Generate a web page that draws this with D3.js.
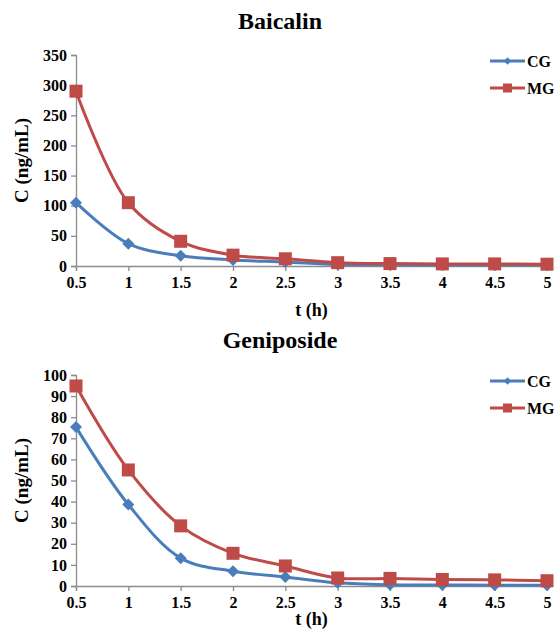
<!DOCTYPE html>
<html><head><meta charset="utf-8">
<script src="https://cdn.jsdelivr.net/npm/d3@7"></script>
<style>
html,body{margin:0;padding:0;background:#fff;}
</style></head>
<body>
<svg id="chart" width="555" height="638"></svg>
<script>
const times = [0.5, 1, 1.5, 2, 2.5, 3, 3.5, 4, 4.5, 5];
const timeLabels = ["0.5","1","1.5","2","2.5","3","3.5","4","4.5","5"];
const seriesNames = ["CG", "MG"];
const baicalinCG = [105, 37, 17, 10, 6.5, 2.5, 2, 1.5, 1.5, 1.5];
const baicalinMG = [290, 105, 41, 18, 12, 5.5, 4, 3.5, 3.5, 3];
const geniposideCG = [75.3, 38.6, 13.2, 7, 4.3, 1.5, 0.6, 0.5, 0.4, 0.3];
const geniposideMG = [94.8, 55, 28.5, 15.5, 9.5, 3.8, 3.6, 3.1, 2.9, 2.5];
const baicalinTicks = [0, 50, 100, 150, 200, 250, 300, 350];
const geniposideTicks = [0, 10, 20, 30, 40, 50, 60, 70, 80, 90, 100];
const colors = {CG: "#4A7EBB", MG: "#BE4B48"};

const svg = d3.select("#chart");
const FONT = "Liberation Serif";

function panel(cfg) {
  const g = svg.append("g");
  const x = d3.scaleLinear().domain([0.5, 5]).range([76, 547]);
  const y = d3.scaleLinear().domain([0, cfg.max]).range([cfg.bottom, cfg.top]);

  g.append("text").attr("x", 280).attr("y", cfg.titleY).attr("text-anchor", "middle")
    .style("font-family", FONT).style("font-weight", "bold")
    .style("font-size", "24px").text(cfg.title);

  const yAxis = g.append("g").attr("transform", "translate(76,0)")
    .call(d3.axisLeft(y).tickValues(cfg.ticks).tickSize(5).tickPadding(4).tickFormat(d3.format("d")));
  yAxis.select(".domain").attr("stroke", "#8c8c8c").attr("stroke-width", 1.3);
  yAxis.selectAll(".tick line").attr("stroke", "#8c8c8c").attr("stroke-width", 1.3);
  yAxis.selectAll(".tick text").style("font-family", FONT).style("font-weight", "bold")
    .style("font-size", "16px").attr("fill", "#000");

  const xAxis = g.append("g").attr("transform", `translate(0,${cfg.bottom})`)
    .call(d3.axisBottom(x).tickValues(times).tickSize(5).tickPadding(6)
      .tickFormat((d, i) => timeLabels[i]));
  xAxis.select(".domain").attr("stroke", "#8c8c8c").attr("stroke-width", 1.3);
  xAxis.selectAll(".tick line").attr("stroke", "#8c8c8c").attr("stroke-width", 1.3);
  xAxis.selectAll(".tick text").style("font-family", FONT).style("font-weight", "bold")
    .style("font-size", "16px").attr("fill", "#000");

  g.append("text").attr("transform", `translate(28,${(cfg.top + cfg.bottom) / 2}) rotate(-90)`)
    .attr("text-anchor", "middle").style("font-family", FONT).style("font-weight", "bold")
    .style("font-size", "19px").text("C (ng/mL)");
  g.append("text").attr("x", 311.5).attr("y", cfg.xLabelY).attr("text-anchor", "middle")
    .style("font-family", FONT).style("font-weight", "bold")
    .style("font-size", "18px").text("t (h)");

  const line = d3.line().x((d, i) => x(times[i])).y(d => y(d)).curve(d3.curveCatmullRom.alpha(0.5));
  const sets = [["CG", cfg.cg], ["MG", cfg.mg]];
  sets.forEach(([name, vals]) => {
    g.append("path").attr("d", line(vals)).attr("fill", "none")
      .attr("stroke", colors[name]).attr("stroke-width", 3);
  });
  sets.forEach(([name, vals]) => {
    const pts = g.append("g");
    vals.forEach((v, i) => {
      if (name === "CG") {
        pts.append("path").attr("d", d3.symbol(d3.symbolSquare, 72)())
          .attr("transform", `translate(${x(times[i])},${y(v)}) rotate(45)`)
          .attr("fill", colors[name]);
      } else {
        pts.append("rect").attr("x", x(times[i]) - 6.5).attr("y", y(v) - 6.5)
          .attr("width", 13).attr("height", 13).attr("fill", colors[name]);
      }
    });
  });

  seriesNames.forEach((name, i) => {
    const ly = cfg.legendY + i * 27;
    g.append("line").attr("x1", 490).attr("x2", 525).attr("y1", ly).attr("y2", ly)
      .attr("stroke", colors[name]).attr("stroke-width", 3);
    if (name === "CG") {
      g.append("path").attr("d", d3.symbol(d3.symbolSquare, 28)())
        .attr("transform", `translate(507.5,${ly}) rotate(45)`).attr("fill", colors[name]);
    } else {
      g.append("rect").attr("x", 503).attr("y", ly - 4.5).attr("width", 9).attr("height", 9)
        .attr("fill", colors[name]);
    }
    g.append("text").attr("x", 527).attr("y", ly + 5.5).style("font-family", FONT)
      .style("font-weight", "bold").style("font-size", "16px").text(name);
  });
}

panel({title: "Baicalin", titleY: 29, top: 55, bottom: 266, max: 350, ticks: baicalinTicks,
  cg: baicalinCG, mg: baicalinMG, legendY: 61, xLabelY: 316});
panel({title: "Geniposide", titleY: 348, top: 375, bottom: 586, max: 100, ticks: geniposideTicks,
  cg: geniposideCG, mg: geniposideMG, legendY: 381, xLabelY: 625});
</script>
</body></html>
